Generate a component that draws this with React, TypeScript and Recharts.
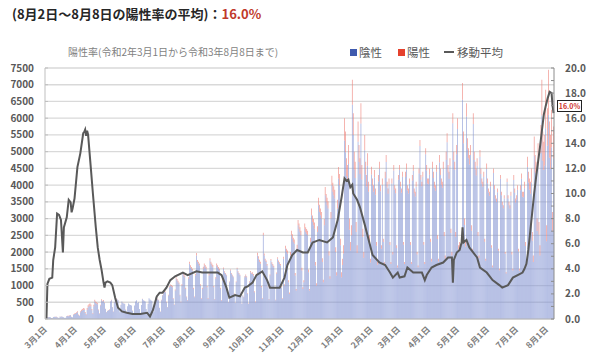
import { Bar, CartesianGrid, ComposedChart, Line, XAxis, YAxis } from "recharts"

// 日別の検査件数(陰性・陽性)を月ごとに並べたもの
const neg2003 = [20, 45, 50, 55, 60, 50, 30, 25, 60, 65, 60, 70, 55, 35, 30, 70, 65, 75, 60, 50, 30, 35, 80, 90, 85, 100, 110, 60, 50, 130, 150]
const pos2003 = [0, 1, 2, 2, 3, 2, 2, 2, 3, 5, 4, 6, 4, 3, 3, 6, 5, 4, 3, 5, 3, 3, 7, 8, 9, 10, 12, 6, 5, 14, 16]
const neg2004 = [160, 180, 200, 120, 90, 200, 240, 260, 280, 270, 180, 120, 280, 350, 380, 400, 370, 260, 150, 380, 520, 480, 460, 440, 260, 160, 400, 560, 520, 540]
const pos2004 = [20, 24, 28, 18, 14, 30, 38, 42, 46, 44, 30, 20, 48, 60, 66, 70, 62, 42, 22, 44, 52, 46, 40, 36, 22, 12, 26, 32, 28, 24]
const neg2005 = [480, 300, 200, 240, 260, 280, 520, 560, 350, 220, 500, 620, 600, 580, 560, 320, 200, 420, 520, 480, 460, 450, 280, 180, 380, 460, 430, 420, 400, 250, 150]
const pos2005 = [14, 8, 6, 7, 8, 8, 14, 15, 8, 5, 10, 11, 9, 8, 6, 3, 2, 3, 4, 3, 2, 3, 1, 1, 2, 2, 2, 1, 2, 1, 0]
const neg2006 = [400, 520, 560, 480, 500, 300, 180, 420, 600, 560, 540, 520, 300, 200, 450, 620, 580, 560, 540, 320, 210, 480, 640, 600, 590, 560, 330, 220, 560, 700]
const pos2006 = [1, 2, 2, 1, 2, 1, 1, 2, 3, 2, 3, 3, 1, 1, 2, 3, 2, 2, 1, 1, 1, 6, 8, 10, 12, 14, 8, 4, 12, 16]
const neg2007 = [760, 820, 800, 500, 350, 700, 950, 1000, 980, 950, 600, 420, 850, 1200, 1150, 1100, 1050, 700, 500, 1000, 1350, 1300, 1250, 900, 650, 550, 1200, 1650, 1550, 1500, 1450]
const pos2007 = [20, 24, 25, 16, 11, 22, 32, 34, 35, 34, 22, 15, 32, 46, 44, 42, 40, 27, 19, 38, 52, 50, 48, 34, 25, 20, 44, 60, 56, 55, 52]
const neg2008 = [900, 650, 1300, 1900, 1700, 1650, 1600, 1000, 600, 900, 1500, 1600, 1550, 1500, 950, 600, 1300, 1750, 1650, 1600, 1550, 950, 580, 1200, 1600, 1550, 1500, 1450, 900, 550, 1150]
const pos2008 = [36, 25, 50, 74, 66, 64, 62, 38, 23, 35, 58, 62, 60, 58, 36, 23, 50, 68, 64, 62, 60, 36, 21, 44, 58, 56, 54, 52, 32, 19, 40]
const neg2009 = [1500, 1400, 1350, 1300, 800, 500, 1100, 1450, 1350, 1300, 1250, 750, 480, 1100, 1500, 1400, 1350, 1300, 780, 450, 700, 650, 1250, 1300, 1250, 750, 450, 1100, 1400, 1350]
const pos2009 = [38, 30, 24, 22, 14, 9, 20, 27, 25, 24, 23, 14, 9, 20, 28, 26, 25, 24, 14, 8, 13, 12, 28, 30, 30, 18, 11, 28, 36, 35]
const neg2010 = [1350, 1300, 800, 500, 1300, 1900, 1800, 1700, 1650, 950, 600, 2500, 1900, 1750, 1700, 1600, 950, 580, 1300, 1750, 1650, 1600, 1550, 920, 560, 1350, 1800, 1700, 1650, 1600, 950]
const pos2010 = [45, 48, 32, 20, 52, 76, 72, 68, 64, 36, 22, 80, 60, 52, 48, 42, 24, 14, 32, 44, 42, 40, 40, 24, 14, 36, 48, 46, 46, 46, 28]
const neg2011 = [600, 1800, 1000, 2100, 2000, 1950, 1100, 750, 1900, 2500, 2400, 2300, 2250, 1300, 850, 2100, 2800, 2700, 2600, 2500, 1450, 900, 1100, 2700, 2600, 2550, 2500, 1400, 850, 2300]
const pos2011 = [18, 60, 38, 90, 96, 100, 58, 40, 105, 140, 135, 130, 128, 74, 48, 115, 155, 150, 145, 140, 80, 50, 60, 150, 145, 142, 140, 78, 48, 130]
const neg2012 = [3100, 2900, 2800, 2700, 1600, 1000, 2600, 3400, 3200, 3100, 3000, 1700, 1100, 2800, 3700, 3500, 3400, 3300, 1900, 1200, 3000, 4000, 3800, 3700, 3600, 2000, 1300, 3300, 4200, 4000, 2200]
const pos2012 = [200, 190, 185, 180, 105, 65, 170, 225, 215, 205, 200, 115, 72, 185, 245, 235, 225, 220, 125, 80, 200, 280, 270, 265, 260, 145, 100, 260, 340, 330, 200]
const neg2101 = [1250, 1610, 1960, 5330, 4980, 4270, 4090, 4630, 2670, 2050, 2500, 6400, 5500, 4470, 4210, 2600, 1970, 5300, 4690, 4330, 5840, 4170, 2450, 1830, 5040, 4320, 3960, 4580, 3800, 2330, 1690]
const pos2101 = [150, 190, 240, 670, 620, 530, 510, 570, 330, 250, 300, 750, 650, 530, 490, 300, 230, 600, 510, 470, 610, 430, 250, 170, 460, 380, 340, 370, 300, 170, 110]
const neg2102 = [4320, 3990, 3800, 4230, 3710, 2190, 1620, 4110, 4490, 3820, 2100, 4010, 2300, 1630, 4210, 4690, 3930, 3740, 4030, 2210, 1640, 4050, 1930, 4440, 3860, 3760, 2120, 1540]
const pos2102 = [230, 210, 200, 220, 190, 110, 80, 190, 210, 180, 100, 190, 100, 70, 190, 210, 170, 160, 170, 90, 60, 150, 70, 160, 140, 140, 80, 60]
const neg2103 = [4160, 4450, 3960, 3770, 4250, 2220, 1640, 4240, 4470, 3840, 3750, 4040, 2210, 1640, 4140, 4430, 3760, 3660, 3950, 1930, 1550, 4350, 5170, 4160, 3970, 4250, 2220, 1640, 4920, 4440, 4050]
const pos2103 = [140, 150, 140, 130, 150, 80, 60, 160, 180, 160, 150, 160, 90, 60, 160, 170, 140, 140, 150, 70, 50, 150, 180, 140, 130, 150, 80, 60, 180, 160, 150]
const neg2104 = [4030, 4310, 2300, 1720, 4500, 4210, 3920, 3830, 4400, 2390, 1720, 4680, 4300, 4010, 3920, 4490, 2480, 1810, 4760, 5280, 4380, 4190, 4570, 2570, 1900, 5850, 4750, 4460, 2460, 4920]
const pos2104 = [170, 190, 100, 80, 200, 190, 180, 170, 200, 110, 80, 220, 200, 190, 180, 210, 120, 90, 240, 270, 220, 210, 230, 130, 100, 300, 250, 240, 140, 280]
const neg2105 = [5680, 2080, 2160, 2060, 2250, 6550, 5250, 2810, 2160, 6050, 5070, 4800, 4620, 4900, 2640, 1980, 5830, 4750, 4470, 4290, 4580, 2490, 1820, 4850, 4330, 4040, 3950, 4240, 2310, 1740, 4480]
const pos2105 = [320, 120, 140, 140, 150, 500, 350, 190, 140, 400, 330, 300, 280, 300, 160, 120, 320, 250, 230, 210, 220, 110, 80, 200, 170, 160, 150, 160, 90, 60, 170]
const neg2106 = [4060, 3780, 3680, 3970, 2130, 1550, 4360, 3880, 3590, 3500, 3790, 2040, 1460, 4190, 3700, 3410, 3310, 3600, 1950, 1360, 4090, 3600, 3400, 3300, 3680, 1930, 1450, 4150, 3770, 3480]
const pos2106 = [140, 120, 120, 130, 70, 50, 140, 120, 110, 100, 110, 60, 40, 110, 100, 90, 90, 100, 50, 40, 110, 100, 100, 100, 120, 70, 50, 150, 130, 120]
const neg2107 = [3570, 3860, 2020, 1440, 3850, 4190, 3650, 3640, 3910, 2180, 1600, 4540, 4080, 3860, 3740, 4080, 2340, 1700, 4880, 4370, 4170, 2630, 4600, 2520, 1900, 4960, 6080, 4730, 4450, 4590, 5700]
const pos2107 = [130, 140, 80, 60, 150, 160, 150, 160, 190, 120, 100, 310, 320, 340, 360, 420, 260, 200, 570, 530, 530, 370, 650, 380, 300, 840, 1070, 870, 850, 910, 1150]
const neg2108 = [2320, 5180, 6100, 4820, 4500, 5130, 2640, 4800]
const pos2108 = [480, 1120, 1350, 1080, 1000, 1120, 560, 950]

const monthKeys = ["2020/3", "2020/4", "2020/5", "2020/6", "2020/7", "2020/8", "2020/9", "2020/10", "2020/11", "2020/12", "2021/1", "2021/2", "2021/3", "2021/4", "2021/5", "2021/6", "2021/7", "2021/8"]
const tickLabels = ["3月1日", "4月1日", "5月1日", "6月1日", "7月1日", "8月1日", "9月1日", "10月1日", "11月1日", "12月1日", "1月1日", "2月1日", "3月1日", "4月1日", "5月1日", "6月1日", "7月1日", "8月1日"]

// 陽性率の移動平均(%)、読み取れた日のみ
const ratePoints: [string, number][] = [
  ["2020/3/2", 0.0], ["2020/3/3", 2.8], ["2020/3/5", 3.2], ["2020/3/8", 3.3], ["2020/3/9", 4.7], ["2020/3/11", 5.7], ["2020/3/13", 8.4], ["2020/3/15", 8.3], ["2020/3/17", 7.9], ["2020/3/19", 5.3], ["2020/3/20", 7.3], ["2020/3/23", 8.1], ["2020/3/25", 9.5], ["2020/3/27", 9.3], ["2020/3/28", 8.5], ["2020/3/29", 8.8], ["2020/3/31", 9.6],
  ["2020/4/3", 12.1], ["2020/4/6", 13.2], ["2020/4/9", 14.8], ["2020/4/10", 14.9], ["2020/4/11", 15.1], ["2020/4/12", 14.6], ["2020/4/13", 15.0], ["2020/4/14", 14.7], ["2020/4/17", 11.9], ["2020/4/19", 10.0], ["2020/4/22", 7.3], ["2020/4/24", 5.7], ["2020/4/26", 4.7], ["2020/4/28", 3.9], ["2020/4/30", 2.9],
  ["2020/5/1", 2.5], ["2020/5/2", 2.9], ["2020/5/4", 3.0], ["2020/5/7", 2.9], ["2020/5/9", 2.7], ["2020/5/12", 1.7], ["2020/5/15", 0.9], ["2020/5/19", 0.6], ["2020/5/24", 0.5], ["2020/5/30", 0.4],
  ["2020/6/7", 0.4], ["2020/6/14", 0.5], ["2020/6/17", 0.2], ["2020/6/20", 0.7], ["2020/6/24", 1.8], ["2020/6/27", 2.1], ["2020/6/30", 2.1],
  ["2020/7/4", 2.5], ["2020/7/8", 3.1], ["2020/7/13", 3.4], ["2020/7/21", 3.7], ["2020/7/26", 3.5],
  ["2020/8/4", 3.8], ["2020/8/10", 3.7], ["2020/8/18", 3.7], ["2020/8/26", 3.7], ["2020/8/30", 3.5],
  ["2020/9/4", 2.5], ["2020/9/7", 1.7], ["2020/9/13", 1.9], ["2020/9/18", 1.8], ["2020/9/23", 2.5], ["2020/9/26", 2.6],
  ["2020/10/1", 2.9], ["2020/10/5", 3.5], ["2020/10/11", 3.8], ["2020/10/16", 3.1], ["2020/10/19", 2.5], ["2020/10/26", 2.5], ["2020/10/29", 2.5],
  ["2020/11/3", 3.3], ["2020/11/6", 4.3], ["2020/11/11", 5.1], ["2020/11/16", 5.5], ["2020/11/22", 5.3], ["2020/11/27", 5.3],
  ["2020/12/2", 6.1], ["2020/12/9", 6.3], ["2020/12/17", 6.1], ["2020/12/23", 6.5], ["2020/12/28", 7.9],
  ["2021/1/1", 9.7], ["2021/1/4", 11.2], ["2021/1/6", 11.0], ["2021/1/8", 11.1], ["2021/1/10", 10.5], ["2021/1/12", 10.7], ["2021/1/13", 10.0], ["2021/1/17", 9.5], ["2021/1/20", 8.9], ["2021/1/25", 7.5], ["2021/1/30", 6.0],
  ["2021/2/2", 5.1], ["2021/2/9", 4.5], ["2021/2/15", 4.3], ["2021/2/20", 3.7], ["2021/2/23", 3.3], ["2021/2/28", 3.7],
  ["2021/3/2", 3.3], ["2021/3/7", 3.4], ["2021/3/10", 4.1], ["2021/3/16", 3.7], ["2021/3/21", 3.7], ["2021/3/25", 3.7], ["2021/3/28", 3.1], ["2021/3/30", 3.5],
  ["2021/4/4", 4.1], ["2021/4/9", 4.3], ["2021/4/16", 4.5], ["2021/4/21", 4.9], ["2021/4/25", 4.9], ["2021/4/26", 2.9], ["2021/4/27", 4.7], ["2021/4/30", 5.3],
  ["2021/5/3", 5.5], ["2021/5/5", 6.1], ["2021/5/6", 7.3], ["2021/5/7", 6.1], ["2021/5/10", 6.3], ["2021/5/13", 5.7], ["2021/5/21", 4.9], ["2021/5/24", 4.1], ["2021/5/31", 3.7],
  ["2021/6/6", 3.1], ["2021/6/13", 2.7], ["2021/6/16", 2.5], ["2021/6/22", 2.7], ["2021/6/27", 3.3],
  ["2021/7/2", 3.5], ["2021/7/7", 3.7], ["2021/7/9", 4.0], ["2021/7/11", 4.4], ["2021/7/13", 5.5], ["2021/7/15", 7.0], ["2021/7/17", 8.5], ["2021/7/19", 10.0], ["2021/7/21", 11.3], ["2021/7/23", 12.5], ["2021/7/25", 13.7], ["2021/7/27", 15.0], ["2021/7/29", 16.3], ["2021/7/31", 17.0],
  ["2021/8/2", 17.6], ["2021/8/4", 18.1], ["2021/8/6", 18.0], ["2021/8/7", 17.0], ["2021/8/8", 16.4],
]

const leftTicks = [0, 500, 1000, 1500, 2000, 2500, 3000, 3500, 4000, 4500, 5000, 5500, 6000, 6500, 7000, 7500]
const rightTicks = [0, 1, 2, 3, 4, 5, 6, 7, 8, 9, 10, 11, 12, 13, 14, 15, 16, 17, 18, 19, 20]

const negByMonth = [neg2003, neg2004, neg2005, neg2006, neg2007, neg2008, neg2009, neg2010, neg2011, neg2012, neg2101, neg2102, neg2103, neg2104, neg2105, neg2106, neg2107, neg2108]
const posByMonth = [pos2003, pos2004, pos2005, pos2006, pos2007, pos2008, pos2009, pos2010, pos2011, pos2012, pos2101, pos2102, pos2103, pos2104, pos2105, pos2106, pos2107, pos2108]
const rateByDate = new Map(ratePoints)

const data = monthKeys.flatMap((mk, mi) =>
  negByMonth[mi].map((n, i) => {
    const date = `${mk}/${i + 1}`
    return { date, neg: n, pos: posByMonth[mi][i], rate: rateByDate.get(date) ?? null }
  }),
)
const tickDates = monthKeys.map((mk) => `${mk}/1`)

const axisText = { fill: "#595959", fontSize: 10, fontWeight: 700 }

function MonthTick({ x, y, payload }: any) {
  const label = tickLabels[tickDates.indexOf(payload.value)]
  const tx = x + 2
  const ty = y + 11
  return (
    <text x={tx} y={ty} transform={`rotate(-45 ${tx} ${ty})`} textAnchor="end" fill="#7f7f7f" fontSize={8.5} fontWeight={700}>
      {label}
    </text>
  )
}

function LeftTick({ x, y, payload }: any) {
  return (
    <g>
      <line x1={x} x2={x + 3} y1={y} y2={y} stroke="#BFBFBF" />
      <text x={x - 11} y={y} dy="0.355em" textAnchor="end" {...axisText}>
        {payload.value}
      </text>
    </g>
  )
}

function RightTick({ x, y, payload }: any) {
  const v = payload.value as number
  return (
    <g>
      <line x1={x - 3} x2={x} y1={y} y2={y} stroke="#8c8c8c" />
      {v % 2 === 0 && (
        <text x={x + 11} y={y} dy="0.355em" textAnchor="start" {...axisText}>
          {v.toFixed(1)}
        </text>
      )}
    </g>
  )
}

export default function App() {
  return (
    <div
      style={{
        position: "absolute",
        left: 0,
        top: 0,
        width: 600,
        height: 361,
        background: "#fff",
        fontFamily: "'Noto Sans CJK JP', 'Noto Sans', sans-serif",
      }}
    >
      <div style={{ position: "absolute", left: 12, top: 6, fontSize: 13, lineHeight: "16px", fontWeight: 700, color: "#262626", whiteSpace: "nowrap" }}>
        (8月2日～8月8日の陽性率の平均)：<span style={{ color: "#C0392B" }}>16.0%</span>
      </div>
      <div style={{ position: "absolute", left: 68, top: 45, fontSize: 10, lineHeight: "14px", color: "#7f7f7f", whiteSpace: "nowrap" }}>
        陽性率(令和2年3月1日から令和3年8月8日まで)
      </div>
      <div style={{ position: "absolute", left: 350, top: 45, fontSize: 11.5, lineHeight: "14px", color: "#595959", display: "flex", alignItems: "center", whiteSpace: "nowrap" }}>
        <span style={{ width: 7, height: 7, background: "#3F5AAE", marginRight: 2 }} />
        <span style={{ marginRight: 16 }}>陰性</span>
        <span style={{ width: 7, height: 7, background: "#E5412D", marginRight: 2 }} />
        <span style={{ marginRight: 14 }}>陽性</span>
        <span style={{ width: 10, height: 2, background: "#595959", marginRight: 3 }} />
        <span>移動平均</span>
      </div>
      <div
        style={{
          position: "absolute",
          left: 557,
          top: 100,
          width: 23,
          height: 10,
          border: "1.5px solid #222",
          color: "#D0302A",
          fontSize: 7,
          fontWeight: 700,
          lineHeight: "10px",
          textAlign: "center",
          background: "#fff",
          zIndex: 2,
        }}
      >
        16.0%
      </div>
      <ComposedChart width={600} height={361} data={data} margin={{ top: 68, right: 0, bottom: 0, left: 0 }} barCategoryGap="20%">
        <CartesianGrid yAxisId="left" vertical={false} stroke="#D9D9D9" strokeWidth={1.3} />
        <XAxis
          dataKey="date"
          ticks={tickDates}
          interval={0}
          height={42}
          tickLine={false}
          tickSize={0}
          tickMargin={0}
          axisLine={{ stroke: "#BFBFBF" }}
          tick={<MonthTick />}
        />
        <YAxis
          yAxisId="left"
          domain={[0, 7500]}
          ticks={leftTicks}
          interval={0}
          width={45}
          tickLine={false}
          tickSize={0}
          tickMargin={0}
          axisLine={{ stroke: "#BFBFBF" }}
          tick={<LeftTick />}
        />
        <YAxis
          yAxisId="right"
          orientation="right"
          domain={[0, 20]}
          ticks={rightTicks}
          interval={0}
          width={46}
          tickLine={false}
          tickSize={0}
          tickMargin={0}
          axisLine={{ stroke: "#8c8c8c" }}
          tick={<RightTick />}
        />
        <Bar yAxisId="left" dataKey="neg" stackId="t" fill="#8595D3" isAnimationActive={false} />
        <Bar yAxisId="left" dataKey="pos" stackId="t" fill="#EE7F76" isAnimationActive={false} />
        <Line
          yAxisId="right"
          dataKey="rate"
          type="linear"
          stroke="#595959"
          strokeWidth={2}
          dot={false}
          connectNulls
          isAnimationActive={false}
        />
      </ComposedChart>
    </div>
  )
}
